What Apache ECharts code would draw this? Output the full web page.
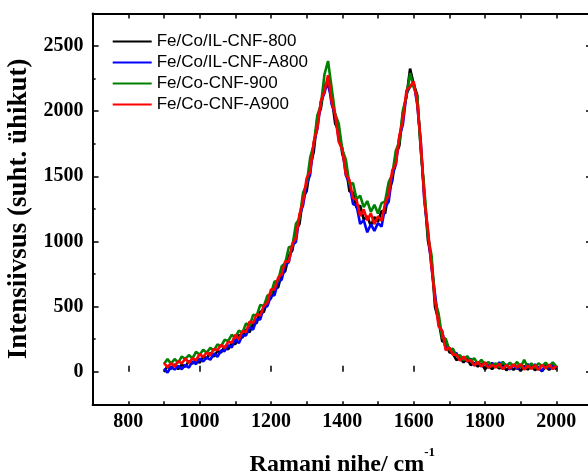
<!DOCTYPE html>
<html>
<head>
<meta charset="utf-8">
<script src="https://cdn.jsdelivr.net/npm/echarts@6/dist/echarts.min.js"></script>
<style>html,body{margin:0;padding:0;background:#fff;overflow:hidden}#c{width:588px;height:475px}</style>
</head>
<body>
<div id="c"></div>
<script>
var seriesNames = ['Fe/Co/IL-CNF-800', 'Fe/Co/IL-CNF-A800', 'Fe/Co-CNF-900', 'Fe/Co-CNF-A900'];
var seriesColors = ['#000000', '#0000ff', '#008000', '#ff0000'];
var xTickCats = ['700','800','900','1000','1100','1200','1300','1400','1500','1600','1700','1800','1900','2000','2100'];
var yTickCats = ['-250','0','250','500','750','1000','1250','1500','1750','2000','2250','2500','2750'];

var wavenumber = [900,910,920,930,940,950,960,970,980,990,1000,1010,1020,1030,1040,1050,1060,1070,1080,1090,1100,1110,1120,1130,1140,1150,1160,1170,1180,1190,1200,1210,1220,1230,1240,1250,1260,1270,1280,1290,1300,1310,1320,1330,1340,1350,1360,1370,1380,1390,1400,1410,1420,1430,1440,1450,1460,1470,1480,1490,1500,1510,1520,1530,1540,1550,1560,1570,1580,1590,1600,1610,1620,1630,1640,1650,1660,1670,1680,1690,1700,1710,1720,1730,1740,1750,1760,1770,1780,1790,1800,1810,1820,1830,1840,1850,1860,1870,1880,1890,1900,1910,1920,1930,1940,1950,1960,1970,1980,1990,2000];

var blackVals = [-2,43,21,57,20,54,37,83,61,94,68,115,103,144,117,158,147,195,171,220,210,283,260,324,303,369,374,463,457,546,563,652,645,750,771,892,931,1090,1133,1341,1384,1573,1688,1940,2022,2202,2195,2114,1904,1851,1672,1577,1385,1376,1257,1275,1168,1193,1119,1187,1151,1235,1214,1383,1463,1661,1735,1987,2112,2326,2208,2125,1707,1364,1009,862,495,394,234,227,150,141,88,108,72,100,50,67,39,64,18,50,20,51,25,53,10,40,15,43,5,45,17,46,11,36,3,40,14,47,18];

var blueVals = [23,-7,40,16,45,19,52,31,80,58,102,79,109,92,140,115,163,158,203,186,251,219,280,278,344,323,403,402,495,503,580,588,689,707,815,841,972,995,1201,1277,1438,1514,1755,1863,2072,2139,2244,2055,1976,1787,1717,1508,1445,1287,1276,1134,1163,1070,1132,1081,1141,1113,1265,1304,1508,1588,1802,1900,2136,2187,2221,2052,1762,1315,1074,804,595,368,308,174,185,138,144,88,110,79,100,48,71,41,70,35,68,35,73,22,56,18,52,21,45,23,59,26,57,23,6,54,25,51,29];

var greenVals = [59,97,62,98,68,117,98,128,102,153,131,168,145,183,163,210,192,245,236,283,263,315,298,371,350,437,430,513,504,584,598,693,695,809,833,956,963,1135,1174,1373,1438,1645,1742,1967,2045,2281,2385,2182,1976,1905,1704,1627,1439,1448,1325,1352,1263,1310,1227,1281,1214,1294,1308,1455,1512,1696,1765,2007,2117,2291,2184,2118,1705,1402,1043,895,546,446,259,253,167,177,120,127,88,121,82,103,60,91,56,75,40,65,35,76,42,69,42,75,34,92,31,64,29,65,43,70,37,72,39];

var redVals = [67,35,66,38,83,63,102,68,104,88,135,114,148,125,175,165,207,182,229,223,283,248,312,304,385,373,444,431,506,529,630,632,721,748,847,845,983,1024,1207,1306,1485,1538,1766,1869,2078,2153,2275,2077,1972,1765,1704,1514,1471,1332,1317,1195,1246,1162,1215,1133,1193,1159,1292,1356,1545,1594,1813,1933,2161,2185,2227,2062,1766,1318,1095,807,554,349,312,165,185,131,131,85,117,81,89,48,75,41,72,29,54,32,62,19,53,24,56,31,59,17,47,23,51,13,53,26,55,20,46];

var allVals = [blackVals, blueVals, greenVals, redVals];

function pairs(vals) {
  return wavenumber.map(function (x, i) { return [x, vals[i]]; });
}

var serif = 'Liberation Serif, Times New Roman, serif';
var sans = 'Liberation Sans, Arial, sans-serif';
var axisLineStyle = { color: '#000', width: 2 };

var chart = echarts.init(document.getElementById('c'), null, { renderer: 'canvas' });
var option = {
  animation: false,
  backgroundColor: '#fff',
  grid: { left: 92.6, width: 499.4, top: 13.4, height: 390.9, containLabel: false, outerBoundsMode: 'none' },
  legend: {
    data: seriesNames.map(function (n, i) { return { name: n, itemStyle: { color: seriesColors[i] } }; }),
    orient: 'vertical',
    left: 112.7,
    top: 33,
    padding: 0,
    icon: 'rect',
    itemWidth: 39,
    itemHeight: 2,
    itemGap: 4,
    textStyle: { fontFamily: sans, fontSize: 17, color: '#000' }
  },
  xAxis: [
    {
      type: 'value', position: 'bottom', min: 700, max: 2100, interval: 100,
      axisLine: { show: true, onZero: false, lineStyle: axisLineStyle },
      axisTick: { show: true, inside: true, length: 3, lineStyle: { color: '#000', width: 1.5 } },
      splitLine: { show: false },
      axisLabel: {
        margin: 8, fontFamily: serif, fontWeight: 'bold', fontSize: 20, color: '#000',
        formatter: function (v) { return (v % 200 === 0 && v >= 800 && v <= 2000) ? String(v) : ''; }
      },
      name: '{a|Ramani nihe/ cm}{b|-1}',
      nameLocation: 'middle',
      nameGap: 42,
      nameTextStyle: {
        rich: {
          a: { fontFamily: serif, fontWeight: 'bold', fontSize: 24, color: '#000', lineHeight: 30, verticalAlign: 'bottom' },
          b: { fontFamily: serif, fontWeight: 'bold', fontSize: 13, color: '#000', lineHeight: 30, verticalAlign: 'top' }
        }
      }
    },
    {
      type: 'category', position: 'bottom', data: xTickCats, boundaryGap: false,
      axisLine: { show: false },
      axisTick: { show: true, inside: true, length: 6, lineStyle: { color: '#000', width: 1.5 },
        interval: function (idx) { return idx % 2 === 1; } },
      axisLabel: { show: false },
      splitLine: { show: false }
    },
    {
      type: 'value', position: 'top', min: 700, max: 2100, interval: 100,
      axisLine: { show: true, onZero: false, lineStyle: axisLineStyle },
      axisTick: { show: true, inside: true, length: 5, lineStyle: { color: '#000', width: 1.5 } },
      axisLabel: { show: false },
      splitLine: { show: false }
    }
  ],
  yAxis: [
    {
      type: 'value', position: 'left', min: -250, max: 2750, interval: 250,
      axisLine: { show: true, onZero: false, lineStyle: axisLineStyle },
      axisTick: { show: true, inside: true, length: 3, lineStyle: { color: '#000', width: 1.5 } },
      splitLine: { show: false },
      axisLabel: {
        margin: 9, fontFamily: serif, fontWeight: 'bold', fontSize: 20, color: '#000',
        formatter: function (v) { return (v % 500 === 0 && v >= 0 && v <= 2500) ? String(v) : ''; }
      },
      name: 'Intensiivsus (suht. ühikut)',
      nameLocation: 'middle',
      nameRotate: 90,
      nameGap: 57,
      nameTextStyle: { fontFamily: serif, fontWeight: 'bold', fontSize: 27, color: '#000' }
    },
    {
      type: 'category', position: 'left', data: yTickCats, boundaryGap: false,
      axisLine: { show: false },
      axisTick: { show: true, inside: true, length: 6, lineStyle: { color: '#000', width: 1.5 },
        interval: function (idx) { return idx % 2 === 1; } },
      axisLabel: { show: false },
      splitLine: { show: false }
    },
    {
      type: 'category', position: 'right', data: yTickCats, boundaryGap: false,
      axisLine: { show: true, lineStyle: axisLineStyle },
      axisTick: { show: true, inside: true, length: 6, lineStyle: { color: '#000', width: 1.5 },
        interval: function (idx) { return idx % 2 === 1; } },
      axisLabel: { show: false },
      splitLine: { show: false }
    }
  ],
  series: seriesNames.map(function (name, i) {
    return {
      name: name,
      type: 'line',
      xAxisIndex: 0,
      yAxisIndex: 0,
      data: pairs(allVals[i]),
      symbol: 'none',
      showSymbol: false,
      color: seriesColors[i],
      lineStyle: { color: seriesColors[i], width: 2.6 },
      z: 2 + i
    };
  })
};
chart.setOption(option);
</script>
</body>
</html>
